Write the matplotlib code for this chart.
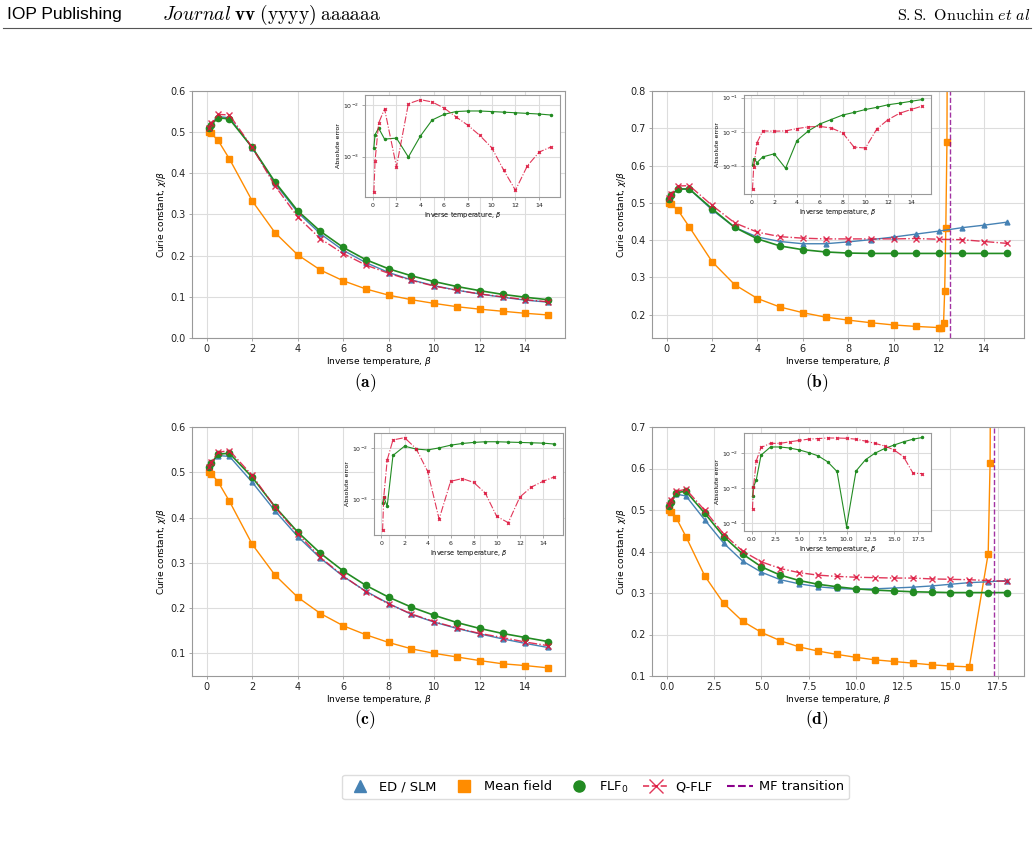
import matplotlib
matplotlib.use('Agg')
import matplotlib.pyplot as plt
import numpy as np
from matplotlib.lines import Line2D
from matplotlib.ticker import MultipleLocator

W, H = 1034, 866

# beta grids
beta_15 = [0.1, 0.2, 0.5, 1, 2, 3, 4, 5, 6, 7, 8, 9, 10, 11, 12, 13, 14, 15]
beta_18 = beta_15 + [16, 17, 18]

# (a)
a_ed = [0.51, 0.52, 0.538, 0.535, 0.462, 0.376, 0.305, 0.253, 0.213, 0.183, 0.159, 0.141, 0.127, 0.116, 0.107, 0.099, 0.092, 0.087]
a_mf = [0.5, 0.497, 0.48, 0.435, 0.333, 0.256, 0.202, 0.165, 0.139, 0.119, 0.104, 0.093, 0.084, 0.076, 0.070, 0.065, 0.060, 0.056]
a_flf = [0.51, 0.518, 0.535, 0.532, 0.463, 0.379, 0.309, 0.259, 0.22, 0.19, 0.168, 0.151, 0.137, 0.125, 0.115, 0.106, 0.099, 0.093]
a_qflf = [0.511, 0.522, 0.543, 0.542, 0.463, 0.370, 0.294, 0.241, 0.205, 0.177, 0.157, 0.14, 0.126, 0.116, 0.107, 0.10, 0.093, 0.088]
a_err_flf = [1.5e-3, 2.7e-3, 3.6e-3, 2.2e-3, 2.3e-3, 9.8e-4, 2.5e-3, 5.2e-3, 6.7e-3, 7.6e-3, 7.8e-3, 7.8e-3, 7.6e-3, 7.4e-3, 7.2e-3, 7.0e-3, 6.8e-3, 6.5e-3]
a_err_qflf = [2.0e-4, 8.3e-4, 4.5e-3, 8.6e-3, 6.3e-4, 1.08e-2, 1.3e-2, 1.17e-2, 8.9e-3, 6.0e-3, 4.1e-3, 2.6e-3, 1.5e-3, 5.5e-4, 2.2e-4, 6.6e-4, 1.23e-3, 1.55e-3]

# (b)
b_mf_beta = [0.1, 0.2, 0.5, 1, 2, 3, 4, 5, 6, 7, 8, 9, 10, 11, 12, 12.1, 12.2, 12.25, 12.3, 12.35, 12.4]
b_mf = [0.5, 0.496, 0.48, 0.435, 0.342, 0.280, 0.243, 0.220, 0.205, 0.193, 0.185, 0.178, 0.172, 0.168, 0.165, 0.164, 0.176, 0.263, 0.432, 0.662, 1.6]
b_ed = [0.51, 0.52, 0.537, 0.537, 0.481, 0.434, 0.408, 0.396, 0.390, 0.390, 0.395, 0.401, 0.408, 0.416, 0.424, 0.433, 0.440, 0.448]
b_flf = [0.51, 0.52, 0.537, 0.537, 0.484, 0.434, 0.403, 0.384, 0.374, 0.368, 0.365, 0.364, 0.364, 0.364, 0.364, 0.364, 0.364, 0.364]
b_qflf = [0.512, 0.524, 0.545, 0.546, 0.493, 0.446, 0.421, 0.409, 0.405, 0.403, 0.403, 0.403, 0.403, 0.404, 0.402, 0.401, 0.396, 0.391]
b_transition = 12.5
b_err_flf = [1.07e-3, 1.67e-3, 1.28e-3, 1.87e-3, 2.3e-3, 8.7e-4, 5.6e-3, 1.07e-2, 1.7e-2, 2.3e-2, 3.1e-2, 3.7e-2, 4.5e-2, 5.2e-2, 6.2e-2, 6.9e-2, 7.8e-2, 8.8e-2]
b_err_qflf = [2.1e-4, 9.2e-4, 4.9e-3, 1.07e-2, 1.05e-2, 1.07e-2, 1.25e-2, 1.4e-2, 1.45e-2, 1.3e-2, 9.4e-3, 3.6e-3, 3.4e-3, 1.23e-2, 2.3e-2, 3.5e-2, 4.5e-2, 5.7e-2]

# (c)
c_ed = [0.511, 0.52, 0.537, 0.535, 0.478, 0.415, 0.358, 0.31, 0.27, 0.237, 0.210, 0.186, 0.169, 0.155, 0.143, 0.132, 0.122, 0.113]
c_mf = [0.5, 0.497, 0.479, 0.436, 0.341, 0.273, 0.224, 0.188, 0.161, 0.141, 0.124, 0.110, 0.100, 0.092, 0.084, 0.077, 0.073, 0.068]
c_flf = [0.511, 0.52, 0.54, 0.542, 0.489, 0.424, 0.368, 0.321, 0.282, 0.25, 0.224, 0.202, 0.184, 0.168, 0.155, 0.144, 0.135, 0.126]
c_qflf = [0.512, 0.522, 0.544, 0.548, 0.493, 0.423, 0.364, 0.312, 0.271, 0.236, 0.209, 0.187, 0.17, 0.156, 0.144, 0.135, 0.125, 0.117]
c_err_flf = [8.1e-4, 1.07e-3, 7.2e-4, 7.1e-3, 1.08e-2, 9.5e-3, 9.1e-3, 1.0e-2, 1.13e-2, 1.22e-2, 1.28e-2, 1.32e-2, 1.32e-2, 1.3e-2, 1.28e-2, 1.26e-2, 1.24e-2, 1.19e-2]
c_err_qflf = [2.4e-4, 1.07e-3, 5.8e-3, 1.43e-2, 1.59e-2, 9.7e-3, 3.5e-3, 4.0e-4, 2.2e-3, 2.5e-3, 2.1e-3, 1.3e-3, 4.5e-4, 3.4e-4, 1.08e-3, 1.7e-3, 2.2e-3, 2.7e-3]

# (d)
d_mf_beta = [0.1, 0.2, 0.5, 1, 2, 3, 4, 5, 6, 7, 8, 9, 10, 11, 12, 13, 14, 15, 16, 17, 17.1, 17.2]
d_mf = [0.5, 0.496, 0.48, 0.436, 0.341, 0.275, 0.232, 0.205, 0.185, 0.170, 0.160, 0.152, 0.145, 0.139, 0.135, 0.131, 0.127, 0.124, 0.122, 0.395, 0.613, 1.6]
d_ed = [0.51, 0.52, 0.538, 0.534, 0.476, 0.42, 0.377, 0.35, 0.332, 0.322, 0.315, 0.311, 0.309, 0.310, 0.312, 0.314, 0.317, 0.321, 0.325, 0.327, 0.330]
d_flf = [0.51, 0.52, 0.542, 0.545, 0.492, 0.436, 0.394, 0.363, 0.343, 0.330, 0.321, 0.315, 0.310, 0.307, 0.305, 0.303, 0.302, 0.301, 0.301, 0.301, 0.301]
d_qflf = [0.512, 0.523, 0.545, 0.55, 0.499, 0.442, 0.401, 0.375, 0.359, 0.349, 0.343, 0.34, 0.338, 0.337, 0.336, 0.336, 0.334, 0.333, 0.332, 0.330, 0.328]
d_transition = 17.3
d_err_flf = [5.9e-4, 1.07e-3, 1.74e-3, 8.8e-3, 1.5e-2, 1.5e-2, 1.4e-2, 1.24e-2, 1.04e-2, 8.4e-3, 5.7e-3, 3.0e-3, 8.1e-5, 3.1e-3, 6.5e-3, 1.0e-2, 1.35e-2, 1.7e-2, 2.1e-2, 2.5e-2, 2.8e-2]
d_err_qflf = [2.6e-4, 1.07e-3, 6.1e-3, 1.45e-2, 1.9e-2, 1.9e-2, 2.1e-2, 2.3e-2, 2.5e-2, 2.6e-2, 2.7e-2, 2.7e-2, 2.65e-2, 2.5e-2, 2.2e-2, 1.9e-2, 1.6e-2, 1.24e-2, 7.9e-3, 2.7e-3, 2.6e-3]

C_ED = '#4682b4'
C_MF = '#ff8c00'
C_FLF = '#228b22'
C_Q = '#dc143c'
C_TR = '#8b008b'


def px_axes(fig, left, top, right, bottom):
    return fig.add_axes([left / W, 1 - bottom / H, (right - left) / W, (bottom - top) / H])


def style_axes(ax, fs):
    for s in ax.spines.values():
        s.set_color('#999999')
    ax.grid(True, color='#dddddd', linewidth=0.8)
    ax.set_axisbelow(True)
    ax.tick_params(labelsize=fs, colors='#222222', length=2.5, width=0.6, color='#999999', pad=2)


def main_panel(ax, beta, ed, mf_beta, mf, flf, qflf, ylim, transition=None):
    ax.plot(mf_beta, mf, '-s', color=C_MF, ms=4.5, lw=1.0)
    ax.plot(beta, ed, '-^', color=C_ED, ms=3.5, lw=1.0)
    ax.plot(beta, flf, '-o', color=C_FLF, ms=4.5, lw=1.2)
    ax.plot(beta, qflf, '-.x', color=C_Q, ms=4.5, lw=1.0, alpha=0.85)
    if transition is not None:
        ax.axvline(transition, color=C_TR, ls='--', lw=1.0, alpha=0.8)
    ax.set_ylim(*ylim)
    style_axes(ax, 7)
    ax.set_xlabel(r'Inverse temperature, $\beta$', fontsize=6.5, labelpad=0.5)
    ax.set_ylabel(r'Curie constant, $\chi/\beta$', fontsize=6.5, labelpad=2)


def inset_panel(ax, beta, err_flf, err_qflf):
    ax.semilogy(beta, err_flf, '-o', color=C_FLF, ms=1.5, lw=0.8)
    ax.semilogy(beta, err_qflf, '-.x', color=C_Q, ms=2, lw=0.8, alpha=0.85)
    style_axes(ax, 4.5)
    ax.tick_params(which='minor', left=False)
    if max(beta) <= 15:
        ax.xaxis.set_major_locator(MultipleLocator(2))
    ax.set_xlabel(r'Inverse temperature, $\beta$', fontsize=4.7, labelpad=1)
    ax.set_ylabel('Absolute error', fontsize=4.5, labelpad=1)


fig = plt.figure(figsize=(W / 100, H / 100), dpi=100)

# header
fig.text(7 / W, 1 - 15 / H, 'IOP Publishing', fontsize=12.5, va='center', ha='left',
         family=['Liberation Sans', 'DejaVu Sans'])
fig.text(162 / W, 1 - 15 / H, r'$\mathit{Journal}\;\mathbf{vv}\;\mathrm{(yyyy)}\;\mathrm{aaaaaa}$',
         fontsize=14, va='center', ha='left', math_fontfamily='cm')
fig.text(1030 / W, 1 - 15 / H, r'$\mathrm{S.S.\ Onuchin}\ \mathit{et\ al}$',
         fontsize=11.5, va='center', ha='right', math_fontfamily='cm')
fig.add_artist(Line2D([3 / W, 1031 / W], [1 - 28 / H, 1 - 28 / H], color='#555555', lw=0.8))

ax_a = px_axes(fig, 192, 91, 565, 338)
main_panel(ax_a, beta_15, a_ed, beta_15, a_mf, a_flf, a_qflf, (0.0, 0.6))
ax_b = px_axes(fig, 652, 91, 1024, 338)
main_panel(ax_b, beta_15, b_ed, b_mf_beta, b_mf, b_flf, b_qflf, (0.137, 0.8), b_transition)
ax_c = px_axes(fig, 192, 427, 565, 676)
main_panel(ax_c, beta_15, c_ed, beta_15, c_mf, c_flf, c_qflf, (0.05, 0.6))
ax_d = px_axes(fig, 652, 427, 1024, 676)
main_panel(ax_d, beta_18, d_ed, d_mf_beta, d_mf, d_flf, d_qflf, (0.1, 0.7), d_transition)

ins_a = px_axes(fig, 365, 95, 560, 197)
inset_panel(ins_a, beta_15, a_err_flf, a_err_qflf)
ins_b = px_axes(fig, 744, 95, 931, 194)
inset_panel(ins_b, beta_15, b_err_flf, b_err_qflf)
ins_c = px_axes(fig, 374, 433, 563, 535)
inset_panel(ins_c, beta_15, c_err_flf, c_err_qflf)
ins_d = px_axes(fig, 744, 433, 931, 531)
inset_panel(ins_d, beta_18, d_err_flf, d_err_qflf)

for lab, x, y in [('(a)', 365, 383), ('(b)', 817, 383), ('(c)', 365, 720), ('(d)', 817, 720)]:
    fig.text(x / W, 1 - y / H, r'$\mathbf{' + lab + '}$', fontsize=12.5, ha='center', va='center',
             math_fontfamily='cm')

handles = [
    Line2D([], [], ls='none', marker='^', color=C_ED, ms=8),
    Line2D([], [], ls='none', marker='s', color=C_MF, ms=8),
    Line2D([], [], ls='none', marker='o', color=C_FLF, ms=8),
    Line2D([], [], ls='--', marker='x', color=C_Q, ms=10, lw=1.2, alpha=0.85),
    Line2D([], [], ls='--', color=C_TR, lw=1.5),
]
labels = ['ED / SLM', 'Mean field', r'FLF$_0$', 'Q-FLF', 'MF transition']
fig.legend(handles, labels, loc='center', bbox_to_anchor=(595.5 / W, 1 - 787 / H), ncol=5,
           fontsize=9.4, handlelength=2.0, columnspacing=1.1, handletextpad=0.5, framealpha=1,
           edgecolor='#dddddd', borderpad=0.35, borderaxespad=0)

fig.savefig('out.png', dpi=100)
